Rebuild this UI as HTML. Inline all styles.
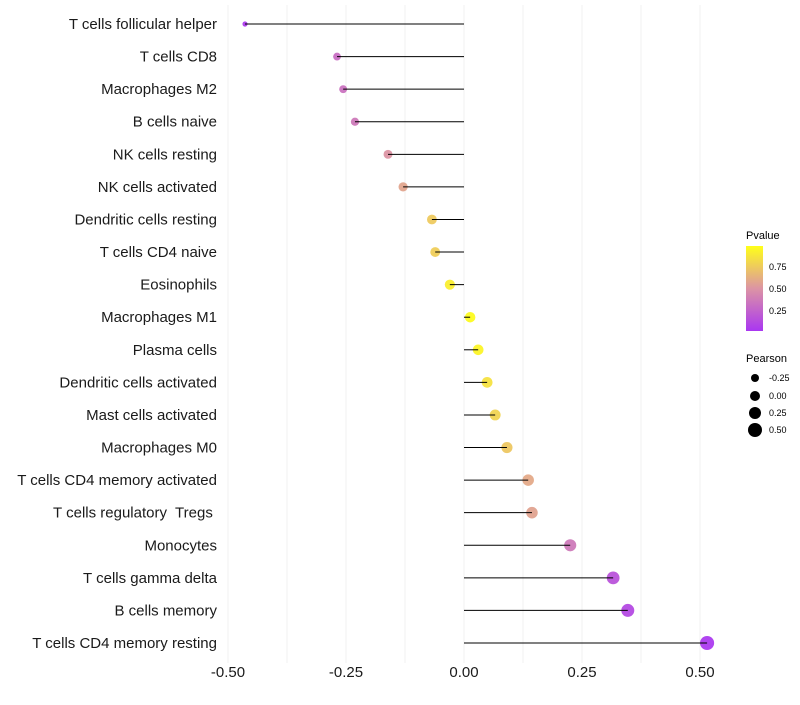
<!DOCTYPE html>
<html><head><meta charset="utf-8">
<style>
html,body{margin:0;padding:0;background:#fff;}
svg text{font-family:"Liberation Sans",sans-serif;}
</style></head>
<body>
<svg id="chart" width="800" height="700">
<defs>
<linearGradient id="pgrad" x1="0" y1="1" x2="0" y2="0">
<stop offset="0" stop-color="#a020f0"/>
<stop offset="0.5" stop-color="#d8889a"/>
<stop offset="1" stop-color="#ffff00"/>
</linearGradient>
</defs>
<g id="grid"></g>
<g id="marks"></g>
<g id="ylabels"></g>
<g id="xlabels"></g>
<g>
<text x="746" y="239" font-size="11" fill="#000">Pvalue</text>
<rect x="746" y="246" width="17" height="85" fill="url(#pgrad)" opacity="0.9"/>
<text x="769" y="270" font-size="9" fill="#000">0.75</text>
<text x="769" y="292" font-size="9" fill="#000">0.50</text>
<text x="769" y="314" font-size="9" fill="#000">0.25</text>
</g>
<g>
<text x="746" y="362" font-size="11" fill="#000">Pearson</text>
<circle cx="755" cy="378" r="4" fill="#000"/>
<text x="769" y="381" font-size="9">-0.25</text>
<circle cx="755" cy="396" r="5" fill="#000"/>
<text x="769" y="399" font-size="9">0.00</text>
<circle cx="755" cy="413" r="6" fill="#000"/>
<text x="769" y="416" font-size="9">0.25</text>
<circle cx="755" cy="430" r="7" fill="#000"/>
<text x="769" y="433" font-size="9">0.50</text>
</g>
</svg>
<script>
const categories = ["T cells follicular helper","T cells CD8","Macrophages M2","B cells naive","NK cells resting","NK cells activated","Dendritic cells resting","T cells CD4 naive","Eosinophils","Macrophages M1","Plasma cells","Dendritic cells activated","Mast cells activated","Macrophages M0","T cells CD4 memory activated","T cells regulatory  Tregs ","Monocytes","T cells gamma delta","B cells memory","T cells CD4 memory resting"];
const pearson = [-0.464,-0.269,-0.256,-0.231,-0.161,-0.129,-0.068,-0.061,-0.030,0.013,0.030,0.049,0.066,0.091,0.136,0.144,0.225,0.316,0.347,0.515];
const pvalues = [0.03,0.30,0.32,0.36,0.50,0.58,0.75,0.77,0.92,0.98,0.95,0.86,0.80,0.74,0.60,0.57,0.36,0.15,0.10,0.02];
const xTicks = [-0.5,-0.25,0,0.25,0.5];
const xTickLabels = ["-0.50","-0.25","0.00","0.25","0.50"];
const NS="http://www.w3.org/2000/svg";
const xs = v => 464 + v*472;
const ys = i => 24 + i*(643-24)/(categories.length-1);
const rs = v => Math.sqrt(Math.max(4, 27 + 44*v));
function lerp(a,b,t){return a.map((c,k)=>Math.round(c+(b[k]-c)*t));}
function col(p){const A=[160,32,240],M=[216,136,154],B=[255,255,0];
 const c = p<0.5?lerp(A,M,p/0.5):lerp(M,B,(p-0.5)/0.5); return `rgb(${c})`;}
function mk(tag,attrs,parent){const e=document.createElementNS(NS,tag);for(const k in attrs)e.setAttribute(k,attrs[k]);parent.appendChild(e);return e;}
const grid=document.getElementById('grid');
for(let g=-0.5;g<=0.5001;g+=0.125){
 const l=mk('line',{x1:xs(g),x2:xs(g),y1:5,y2:663,stroke:'#f0f0f0','stroke-width':1},grid);
 
 
}
const marks=document.getElementById('marks');
categories.forEach((c,i)=>{
 const y=ys(i);
 const ci=mk('circle',{cx:xs(pearson[i]),cy:y,r:rs(pearson[i]),fill:col(pvalues[i]),opacity:0.85},marks);
 
 
 const ln=mk('line',{x1:xs(0),x2:xs(pearson[i]),y1:y,y2:y,stroke:'#000','stroke-width':1},marks);
 
 
 const t=mk('text',{x:217,y:y+5,'text-anchor':'end','font-size':15,fill:'#1a1a1a'},document.getElementById('ylabels'));
 t.textContent=c;
 t.setAttribute('xml:space','preserve');
 t.style.whiteSpace='pre';
 
 
});
xTicks.forEach((v,i)=>{
 const t=mk('text',{x:xs(v),y:677,'text-anchor':'middle','font-size':15,fill:'#1a1a1a'},document.getElementById('xlabels'));
 t.textContent=xTickLabels[i];
 
 
});
</script>
</body></html>
